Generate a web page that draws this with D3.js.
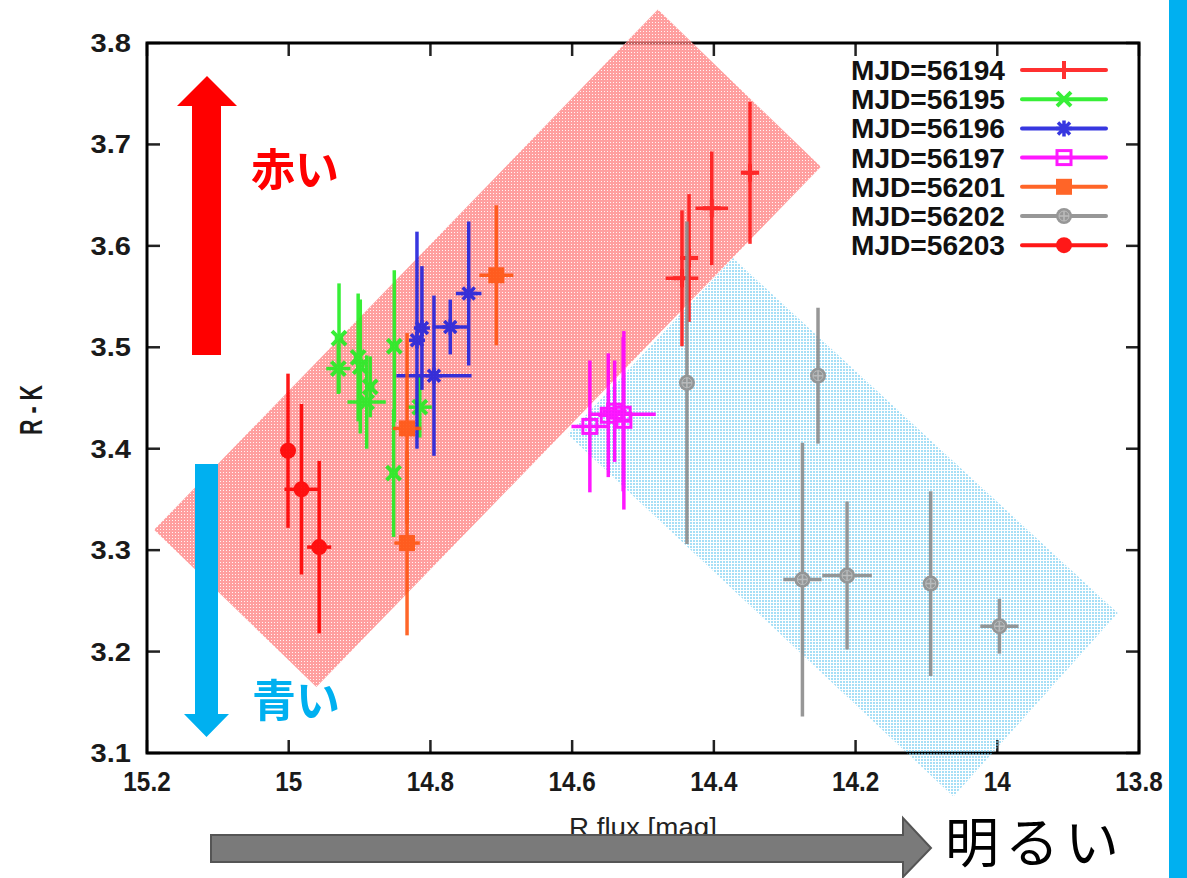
<!DOCTYPE html>
<html><head><meta charset="utf-8">
<script src="https://cdn.jsdelivr.net/npm/d3@7"></script>
<style>body{margin:0;background:#fff}svg{display:block}</style>
</head><body>
<svg id="c" width="1187" height="878"></svg>
<script>
// ---- data: [R mag, R-K, xerr, yerr] ----
const mjd56194 = [[14.445,3.568,0.023,0.067],[14.435,3.588,0.006,0.063],[14.403,3.637,0.023,0.056],[14.349,3.672,0.008,0.070]];
const mjd56195 = [[14.929,3.509,0.006,0.054],[14.930,3.479,0.017,0.025],[14.902,3.490,0.006,0.063],[14.899,3.481,0.006,0.066],[14.885,3.461,0.006,0.030],[14.890,3.446,0.027,0.046],[14.851,3.501,0.006,0.075],[14.852,3.376,0.006,0.063],[14.815,3.441,0.017,0.030]];
const mjd56196 = [[14.819,3.507,0.006,0.107],[14.812,3.519,0.006,0.061],[14.795,3.472,0.053,0.079],[14.772,3.520,0.025,0.027],[14.746,3.553,0.018,0.071]];
const mjd56197 = [[14.575,3.422,0.026,0.065],[14.549,3.433,0.014,0.061],[14.540,3.437,0.017,0.050],[14.528,3.434,0.046,0.076],[14.527,3.428,0.010,0.088]];
const mjd56201 = [[14.707,3.571,0.024,0.069],[14.833,3.420,0.020,0.094],[14.833,3.307,0.018,0.091]];
const mjd56202 = [[14.438,3.465,0.005,0.159],[14.253,3.472,0.008,0.067],[14.275,3.271,0.027,0.135],[14.212,3.275,0.035,0.073],[14.094,3.267,0.008,0.091],[13.997,3.225,0.027,0.027]];
const mjd56203 = [[15.001,3.398,0.005,0.076],[14.982,3.360,0.024,0.084],[14.957,3.303,0.017,0.085]];
const seriesNames = ["MJD=56194","MJD=56195","MJD=56196","MJD=56197","MJD=56201","MJD=56202","MJD=56203"];
const seriesColors = ["#ff1a1a","#22ee22","#2222dd","#ff00ff","#ff5511","#8c8c8c","#ff0000"];
const seriesMarkers = ["plus","cross","star","sqopen","sqfill","circgray","circ"];
const xTicks = [15.2,15,14.8,14.6,14.4,14.2,14,13.8];
const xTickLabels = ["15.2","15","14.8","14.6","14.4","14.2","14","13.8"];
const yTicks = [3.1,3.2,3.3,3.4,3.5,3.6,3.7,3.8];
const yTickLabels = ["3.1","3.2","3.3","3.4","3.5","3.6","3.7","3.8"];
// shaded regions (data coords)
const redZone = [[15.190,3.320],[14.479,3.833],[14.249,3.678],[14.961,3.165]];
const blueZone = [[14.606,3.414],[14.373,3.588],[13.830,3.238],[14.062,3.057]];

const allSeries = [mjd56194,mjd56195,mjd56196,mjd56197,mjd56201,mjd56202,mjd56203];

const svg = d3.select("#c");
const x = d3.scaleLinear().domain([15.2,13.8]).range([147,1139]);
const y = d3.scaleLinear().domain([3.1,3.8]).range([753,43]);

// patterns
const defs = svg.append("defs");
const pr = defs.append("pattern").attr("id","pinkPat").attr("width",3).attr("height",3).attr("patternUnits","userSpaceOnUse");
pr.append("rect").attr("width",3).attr("height",3).attr("fill","#ff7f7f").attr("fill-opacity",0.75);
pr.append("rect").attr("x",1).attr("y",1).attr("width",1).attr("height",1).attr("fill","#ffffff").attr("fill-opacity",0.9);
const pb = defs.append("pattern").attr("id","bluePat").attr("width",3).attr("height",3).attr("patternUnits","userSpaceOnUse");
pb.append("rect").attr("width",2).attr("height",2).attr("fill","#6ccaf0").attr("fill-opacity",0.6);

// frame
const F = {l:147,r:1139,t:43,b:753};
const tickLen = 13;
const g = svg.append("g");
xTicks.forEach(v=>{
  g.append("line").attr("x1",x(v)).attr("x2",x(v)).attr("y1",F.b).attr("y2",F.b-tickLen).attr("stroke","#222").attr("stroke-width",2.5);
  g.append("line").attr("x1",x(v)).attr("x2",x(v)).attr("y1",F.t).attr("y2",F.t+tickLen).attr("stroke","#222").attr("stroke-width",2.5);
});
yTicks.forEach(v=>{
  g.append("line").attr("x1",F.l).attr("x2",F.l+tickLen).attr("y1",y(v)).attr("y2",y(v)).attr("stroke","#222").attr("stroke-width",2.5);
  g.append("line").attr("x1",F.r).attr("x2",F.r-tickLen).attr("y1",y(v)).attr("y2",y(v)).attr("stroke","#222").attr("stroke-width",2.5);
});
g.append("rect").attr("x",F.l).attr("y",F.t).attr("width",F.r-F.l).attr("height",F.b-F.t).attr("fill","none").attr("stroke","#000").attr("stroke-width",3);

// tick labels
const tf = "'Liberation Sans', Arial, sans-serif";
xTicks.forEach((v,i)=>{
  g.append("text").attr("transform",`translate(${x(v)},791) scale(0.9,1)`).attr("text-anchor","middle")
   .attr("font-family",tf).attr("font-weight","bold").attr("font-size",27).attr("fill","#1a1a1a").text(xTickLabels[i]);
});
yTicks.forEach((v,i)=>{
  g.append("text").attr("transform",`translate(131,${y(v)+9}) scale(1.12,1)`).attr("text-anchor","end")
   .attr("font-family",tf).attr("font-weight","bold").attr("font-size",26).attr("fill","#1a1a1a").text(yTickLabels[i]);
});
g.append("text").attr("transform","translate(42,410) rotate(-90)").attr("text-anchor","middle")
  .attr("font-family",tf).attr("font-weight","bold").attr("font-size",31).attr("fill","#1a1a1a")
  .attr("textLength",50).attr("lengthAdjust","spacingAndGlyphs").text("R - K");
g.append("text").attr("x",643).attr("y",836).attr("text-anchor","middle")
  .attr("font-family",tf).attr("font-size",25).attr("fill","#222")
  .attr("textLength",148).attr("lengthAdjust","spacingAndGlyphs").text("R flux [mag]");

// shaded zones
const line = d3.line().x(d=>x(d[0])).y(d=>y(d[1]));
svg.append("path").attr("d",line(blueZone)+"Z").attr("fill","url(#bluePat)");
svg.append("path").attr("d",line(redZone)+"Z").attr("fill","url(#pinkPat)");

// markers
function marker(sel,type,cx,cy,col){
  const m = sel.append("g").attr("transform",`translate(${cx},${cy})`);
  if(type==="plus"){
    m.append("path").attr("d","M-9,0H9M0,-9V9").attr("stroke",col).attr("stroke-width",4);
  } else if(type==="cross"){
    m.append("path").attr("d","M-7,-7L7,7M-7,7L7,-7").attr("stroke",col).attr("stroke-width",4);
  } else if(type==="star"){
    m.append("path").attr("d","M-8,0H8M0,-8V8M-6,-6L6,6M-6,6L6,-6").attr("stroke",col).attr("stroke-width",3.5);
  } else if(type==="sqopen"){
    m.append("rect").attr("x",-7).attr("y",-7).attr("width",14).attr("height",14).attr("fill","none").attr("stroke",col).attr("stroke-width",3);
  } else if(type==="sqfill"){
    m.append("rect").attr("x",-8).attr("y",-8).attr("width",16).attr("height",16).attr("fill",col);
  } else if(type==="circgray"){
    m.append("circle").attr("r",8).attr("fill",col);
    m.append("path").attr("d","M-5,0H5M0,-5V5").attr("stroke","#b5b5b5").attr("stroke-width",1.5);
    m.append("circle").attr("r",5).attr("fill","none").attr("stroke","#b5b5b5").attr("stroke-width",1);
  } else if(type==="circ"){
    m.append("circle").attr("r",8).attr("fill",col);
  }
}

// data
allSeries.forEach((s,si)=>{
  const col = seriesColors[si];
  const sg = svg.append("g").attr("opacity",0.9);
  s.forEach(d=>{
    sg.append("line").attr("x1",x(d[0])).attr("x2",x(d[0])).attr("y1",y(d[1]-d[3])).attr("y2",y(d[1]+d[3])).attr("stroke",col).attr("stroke-width",3.5);
    sg.append("line").attr("x1",x(d[0]-d[2])).attr("x2",x(d[0]+d[2])).attr("y1",y(d[1])).attr("y2",y(d[1])).attr("stroke",col).attr("stroke-width",3.5);
    marker(sg,seriesMarkers[si],x(d[0]),y(d[1]),col);
  });
});

// legend
const lg = svg.append("g");
seriesNames.forEach((n,i)=>{
  const cy = 70 + i*29.2;
  lg.append("text").attr("x",1005).attr("y",cy+10).attr("text-anchor","end")
    .attr("font-family",tf).attr("font-weight","bold").attr("font-size",28).attr("fill","#111")
    .attr("textLength",154).attr("lengthAdjust","spacingAndGlyphs").text(n);
  const ig = lg.append("g").attr("opacity",0.9);
  ig.append("line").attr("x1",1022).attr("x2",1106).attr("y1",cy).attr("y2",cy).attr("stroke",seriesColors[i]).attr("stroke-width",4).attr("stroke-linecap","round");
  marker(ig,seriesMarkers[i],1064,cy,seriesColors[i]);
});

// annotation arrows
const ann = svg.append("g");
ann.append("path").attr("d","M192,355V106H177L207,76L237,106H221V355Z").attr("fill","#ff0000");
ann.append("path").attr("d","M195,464H218V714H229L206.5,737L184,714H195Z").attr("fill","#00b0f0");
ann.append("path").attr("d","M211,835H903V818L931,848L903,877V862H211Z").attr("fill","#7a7a7a").attr("stroke","#555").attr("stroke-width",2);
ann.append("rect").attr("x",1169).attr("y",0).attr("width",18).attr("height",878).attr("fill","#00b0f0");
const jf = "'Noto Sans CJK JP', sans-serif";
ann.append("text").attr("x",251).attr("y",167).attr("dominant-baseline","central").attr("font-family",jf).attr("font-weight","bold").attr("font-size",44).attr("fill","#ff0000").text("赤い");
ann.append("text").attr("x",252).attr("y",698).attr("dominant-baseline","central").attr("font-family",jf).attr("font-weight","bold").attr("font-size",44).attr("fill","#00b0f0").text("青い");
ann.append("text").attr("x",945).attr("y",863).attr("font-family",jf).attr("font-size",54).attr("letter-spacing",6).attr("fill","#000").text("明るい");
</script>
</body></html>
